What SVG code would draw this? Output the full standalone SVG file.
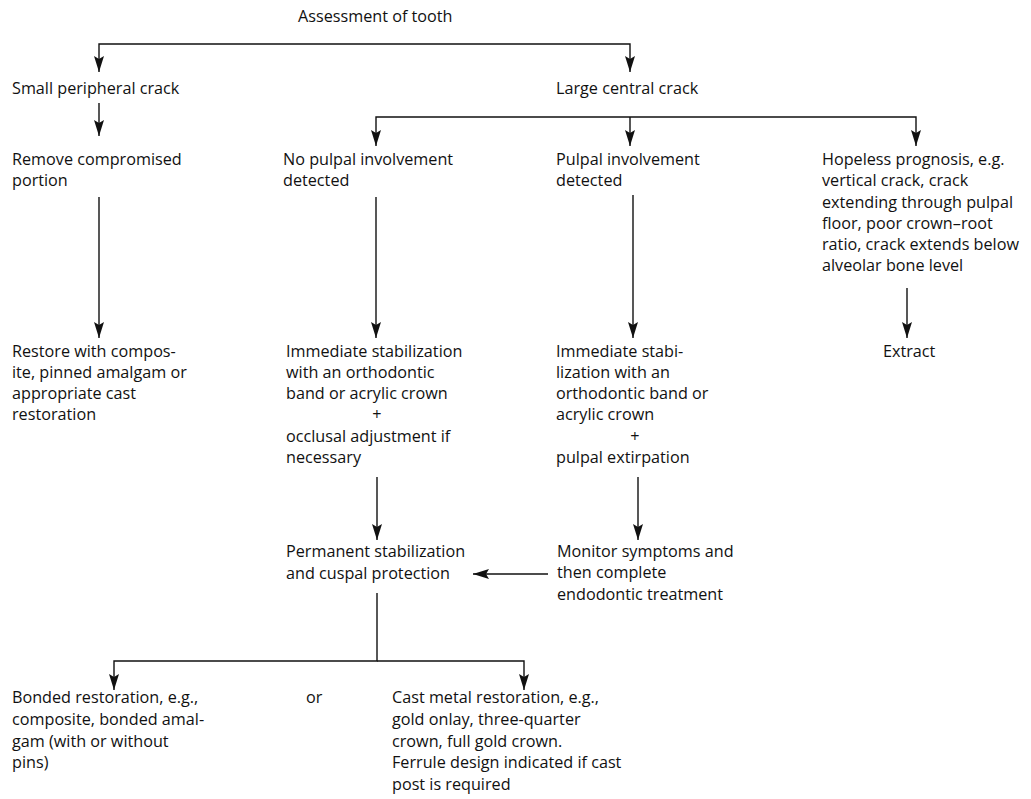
<svg xmlns="http://www.w3.org/2000/svg" width="1031" height="799" viewBox="0 0 1031 799">
<style>
text{font-family:"Open Sans","Liberation Sans",Arial,sans-serif;font-size:16.2px;fill:#111}
.c{fill:none;stroke:#111;stroke-width:1.4}
.m{text-anchor:middle}
</style>
<defs>
<marker id="ah" markerUnits="userSpaceOnUse" markerWidth="16" markerHeight="10" refX="16" refY="5" orient="auto">
<path d="M0,0 L16,5 L0,10 L3,5 z" fill="#111"/>
</marker>
</defs>
<rect width="1031" height="799" fill="#fff"/>
<g id="connectors">
<path class="c" d="M375,44 H99 V72" marker-end="url(#ah)"/>
<path class="c" d="M375,44 H630 V72" marker-end="url(#ah)"/>
<path class="c" d="M99,103 V136" marker-end="url(#ah)"/>
<path class="c" d="M630,117 H376 V146" marker-end="url(#ah)"/>
<path class="c" d="M630,117 V146" marker-end="url(#ah)"/>
<path class="c" d="M630,117 H916 V146" marker-end="url(#ah)"/>
<path class="c" d="M99,197 V338" marker-end="url(#ah)"/>
<path class="c" d="M376,197 V338" marker-end="url(#ah)"/>
<path class="c" d="M633,195 V338" marker-end="url(#ah)"/>
<path class="c" d="M907,288 V338" marker-end="url(#ah)"/>
<path class="c" d="M377,477 V540" marker-end="url(#ah)"/>
<path class="c" d="M638,477 V540" marker-end="url(#ah)"/>
<path class="c" d="M548,574 H473" marker-end="url(#ah)"/>
<path class="c" d="M377,593 V661 H114 V690" marker-end="url(#ah)"/>
<path class="c" d="M377,661 H524 V690" marker-end="url(#ah)"/>
</g>
<g id="n_assess"><text x="298" y="22">Assessment of tooth</text></g>
<g id="n_small"><text x="12" y="94">Small peripheral crack</text></g>
<g id="n_large"><text x="556" y="94">Large central crack</text></g>
<g id="n_remove"><text x="12" y="165">Remove compromised</text><text x="12" y="186">portion</text></g>
<g id="n_nopulp"><text x="283" y="165">No pulpal involvement</text><text x="283" y="186">detected</text></g>
<g id="n_pulp"><text x="556" y="165">Pulpal involvement</text><text x="556" y="186">detected</text></g>
<g id="n_hopeless">
<text x="822" y="165">Hopeless prognosis, e.g.</text>
<text x="822" y="186">vertical crack, crack</text>
<text x="822" y="208">extending through pulpal</text>
<text x="822" y="229">floor, poor crown–root</text>
<text x="822" y="250">ratio, crack extends below</text>
<text x="822" y="271">alveolar bone level</text>
</g>
<g id="n_restore">
<text x="12" y="357">Restore with compos-</text>
<text x="12" y="378">ite, pinned amalgam or</text>
<text x="12" y="399">appropriate cast</text>
<text x="12" y="420">restoration</text>
</g>
<g id="n_imm1">
<text x="286" y="357">Immediate stabilization</text>
<text x="286" y="378">with an orthodontic</text>
<text x="286" y="399">band or acrylic crown</text>
<text class="m" x="377" y="420">+</text>
<text x="286" y="442">occlusal adjustment if</text>
<text x="286" y="463">necessary</text>
</g>
<g id="n_imm2">
<text x="556" y="357">Immediate stabi-</text>
<text x="556" y="378">lization with an</text>
<text x="556" y="399">orthodontic band or</text>
<text x="556" y="420">acrylic crown</text>
<text class="m" x="635" y="442">+</text>
<text x="556" y="463">pulpal extirpation</text>
</g>
<g id="n_extract"><text x="883" y="357">Extract</text></g>
<g id="n_perm"><text x="286" y="557">Permanent stabilization</text><text x="286" y="579">and cuspal protection</text></g>
<g id="n_monitor">
<text x="557" y="557">Monitor symptoms and</text>
<text x="557" y="578">then complete</text>
<text x="557" y="600">endodontic treatment</text>
</g>
<g id="n_bonded">
<text x="12" y="703">Bonded restoration, e.g.,</text>
<text x="12" y="725">composite, bonded amal-</text>
<text x="12" y="747">gam (with or without</text>
<text x="12" y="768">pins)</text>
</g>
<g id="n_or"><text x="306" y="703">or</text></g>
<g id="n_cast">
<text x="392" y="703">Cast metal restoration, e.g.,</text>
<text x="392" y="725">gold onlay, three-quarter</text>
<text x="392" y="747">crown, full gold crown.</text>
<text x="392" y="768">Ferrule design indicated if cast</text>
<text x="392" y="790">post is required</text>
</g>
</svg>
